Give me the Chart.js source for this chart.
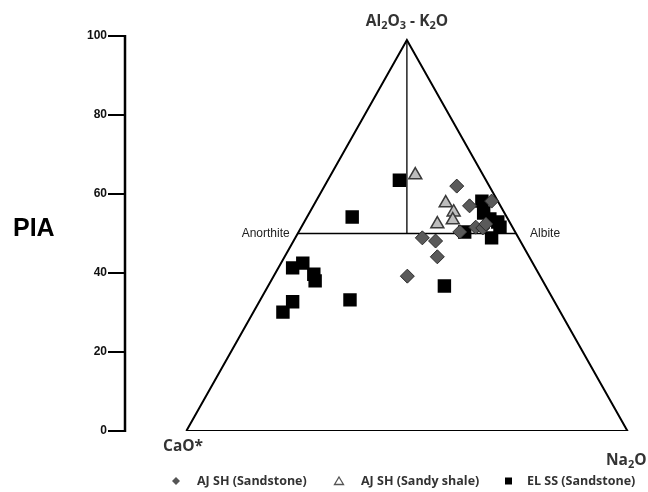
<!DOCTYPE html>
<html>
<head>
<meta charset="utf-8">
<script src="https://cdn.jsdelivr.net/npm/chart.js@4.4.1/dist/chart.umd.min.js"></script>
<style>
  html, body { margin: 0; padding: 0; background: #fff; }
  #wrap { width: 648px; height: 492px; }
  canvas { display: block; }
</style>
</head>
<body>
<div id="wrap"><canvas id="piaChart" width="648" height="492"></canvas></div>
<script>
// PIA ternary plot (Al2O3-K2O / CaO* / Na2O)
var yTicks = [0, 20, 40, 60, 80, 100];

// triangle outline and field lines, in plot units
var triX = [0, 50, 100, 0];
var triY = [0, 99, 0, 0];
var midX = [25.25, 74.75];
var midY = [50, 50];
var vertX = [50, 50];
var vertY = [50, 99];

// AJ SH (Sandstone) - diamonds
var ajSandX = [61.3, 64.2, 69.2, 53.5, 56.5, 56.9, 50.1, 62.0, 65.6, 67.2, 67.9];
var ajSandY = [62.0, 57.0, 58.2, 48.9, 48.1, 44.1, 39.2, 50.4, 51.6, 51.4, 52.4];

// AJ SH (Sandy shale) - triangles
var ajShaleX = [51.9, 58.8, 60.6, 60.4, 56.9];
var ajShaleY = [64.8, 57.7, 55.4, 53.4, 52.4];

// EL SS (Sandstone) - squares
var elSandX = [48.3, 37.6, 24.1, 26.4, 28.9, 29.2, 24.1, 21.9, 37.1, 58.5, 63.1, 67.0, 67.4, 68.8, 70.6, 71.1, 69.2];
var elSandY = [63.5, 54.2, 41.3, 42.5, 39.7, 38.0, 32.7, 30.1, 33.2, 36.7, 50.4, 58.2, 55.2, 53.7, 52.9, 51.6, 48.9];

var legendNames = ['AJ SH (Sandstone)', 'AJ SH (Sandy shale)', 'EL SS (Sandstone)'];

function toPoints(xs, ys) {
  return xs.map(function (v, i) { return { x: v, y: ys[i] }; });
}

function lineSet(xs, ys, width) {
  return {
    data: toPoints(xs, ys),
    showLine: true,
    borderColor: '#000',
    borderWidth: width,
    pointRadius: 0,
    fill: false,
    order: 10
  };
}

// draw text with subscript parts: [[text, isSub], ...]
function drawSub(ctx, parts, x, y, size, align) {
  var big = 'bold ' + size + 'px "Open Sans"';
  var small = 'bold ' + Math.round(size * 0.68) + 'px "Open Sans"';
  var total = 0;
  parts.forEach(function (p) {
    ctx.font = p[1] ? small : big;
    total += ctx.measureText(p[0]).width;
  });
  var cx = align === 'center' ? x - total / 2 : x;
  ctx.textAlign = 'left';
  ctx.textBaseline = 'middle';
  parts.forEach(function (p) {
    ctx.font = p[1] ? small : big;
    ctx.fillText(p[0], cx, p[1] ? y + size * 0.28 : y);
    cx += ctx.measureText(p[0]).width;
  });
}

var piaLabels = {
  id: 'piaLabels',
  afterDraw: function (chart) {
    var ctx = chart.ctx;
    var xs = chart.scales.x, ys = chart.scales.y;
    var left = chart.chartArea.left;
    ctx.save();

    // vertical PIA axis line (0 to 100 only)
    ctx.strokeStyle = '#000';
    ctx.lineWidth = 2.5;
    ctx.beginPath();
    ctx.moveTo(left, ys.getPixelForValue(100) - 1);
    ctx.lineTo(left, ys.getPixelForValue(0) + 1);
    ctx.stroke();

    // axis title
    ctx.fillStyle = '#000';
    ctx.font = 'bold 25px "Liberation Sans"';
    ctx.textAlign = 'left';
    ctx.textBaseline = 'middle';
    ctx.fillText('PIA', 13, 229);

    // apex / corner labels
    ctx.fillStyle = '#333';
    drawSub(ctx, [['Al', 0], ['2', 1], ['O', 0], ['3', 1], [' - K', 0], ['2', 1], ['O', 0]],
      xs.getPixelForValue(50), 22, 15.5, 'center');
    drawSub(ctx, [['CaO*', 0]], 163, ys.getPixelForValue(0) + 16, 15.5, 'left');
    drawSub(ctx, [['Na', 0], ['2', 1], ['O', 0]], 606, ys.getPixelForValue(0) + 30, 15.5, 'left');

    // field labels
    ctx.fillStyle = '#222';
    ctx.font = '12px "Liberation Sans"';
    ctx.textBaseline = 'middle';
    ctx.textAlign = 'right';
    ctx.fillText('Anorthite', xs.getPixelForValue(midX[0]) - 8, ys.getPixelForValue(50));
    ctx.textAlign = 'left';
    ctx.fillText('Albite', xs.getPixelForValue(midX[1]) + 14, ys.getPixelForValue(50));

    // legend
    var ly = 481;
    ctx.font = 'bold 12.5px "Open Sans"';
    ctx.fillStyle = '#333';
    ctx.textAlign = 'left';
    ctx.fillText(legendNames[0], 197, ly);
    ctx.fillText(legendNames[1], 361, ly);
    ctx.fillText(legendNames[2], 527, ly);

    // diamond
    ctx.fillStyle = '#555';
    ctx.beginPath();
    ctx.moveTo(176, ly - 4); ctx.lineTo(180, ly); ctx.lineTo(176, ly + 4); ctx.lineTo(172, ly);
    ctx.closePath();
    ctx.fill();
    // triangle
    ctx.strokeStyle = '#555';
    ctx.lineWidth = 1.3;
    ctx.beginPath();
    ctx.moveTo(339, ly - 4); ctx.lineTo(343.5, ly + 3.5); ctx.lineTo(334.5, ly + 3.5);
    ctx.closePath();
    ctx.stroke();
    // square
    ctx.fillStyle = '#000';
    ctx.fillRect(505, ly - 3.5, 7, 7);

    ctx.restore();
  }
};

document.addEventListener('DOMContentLoaded', function () {
  var canvas = document.getElementById('piaChart');
  var ctx = canvas.getContext('2d');

  new Chart(ctx, {
    type: 'scatter',
    data: {
      datasets: [
        {
          label: legendNames[2],
          data: toPoints(elSandX, elSandY),
          pointStyle: 'rect',
          pointRadius: 9.5,
          backgroundColor: '#000',
          borderColor: '#000',
          borderWidth: 0,
          order: 3
        },
        {
          label: legendNames[0],
          data: toPoints(ajSandX, ajSandY),
          pointStyle: 'rectRot',
          pointRadius: 7,
          backgroundColor: '#5a5a5a',
          borderColor: '#2a2a2a',
          borderWidth: 1,
          order: 2
        },
        {
          label: legendNames[1],
          data: toPoints(ajShaleX, ajShaleY),
          pointStyle: 'triangle',
          pointRadius: 7.5,
          backgroundColor: '#bdbdbd',
          borderColor: '#3a3a3a',
          borderWidth: 1.5,
          order: 1
        },
        lineSet(triX, triY, 2),
        lineSet(midX, midY, 1.3),
        lineSet(vertX, vertY, 1.3)
      ]
    },
    options: {
      responsive: false,
      animation: false,
      events: [],
      layout: { padding: { top: 36, left: 0, right: 0, bottom: 0 } },
      plugins: {
        legend: { display: false },
        tooltip: { enabled: false }
      },
      scales: {
        x: {
          type: 'linear',
          min: -13.9,
          max: 102.5,
          ticks: { display: false },
          grid: { display: false },
          border: { display: false },
          afterFit: function (scale) { scale.height = 61; }
        },
        y: {
          type: 'linear',
          min: 0,
          max: 100,
          afterBuildTicks: function (scale) {
            scale.ticks = yTicks.map(function (v) { return { value: v }; });
          },
          afterFit: function (scale) { scale.width = 125; },
          ticks: {
            padding: 1,
            color: '#111',
            font: { family: 'Liberation Sans', size: 12, weight: 'bold' }
          },
          grid: {
            drawOnChartArea: false,
            drawTicks: true,
            tickLength: 17,
            color: '#000',
            lineWidth: 2
          },
          border: { display: false }
        }
      }
    },
    plugins: [piaLabels]
  });
});
</script>
</body>
</html>
